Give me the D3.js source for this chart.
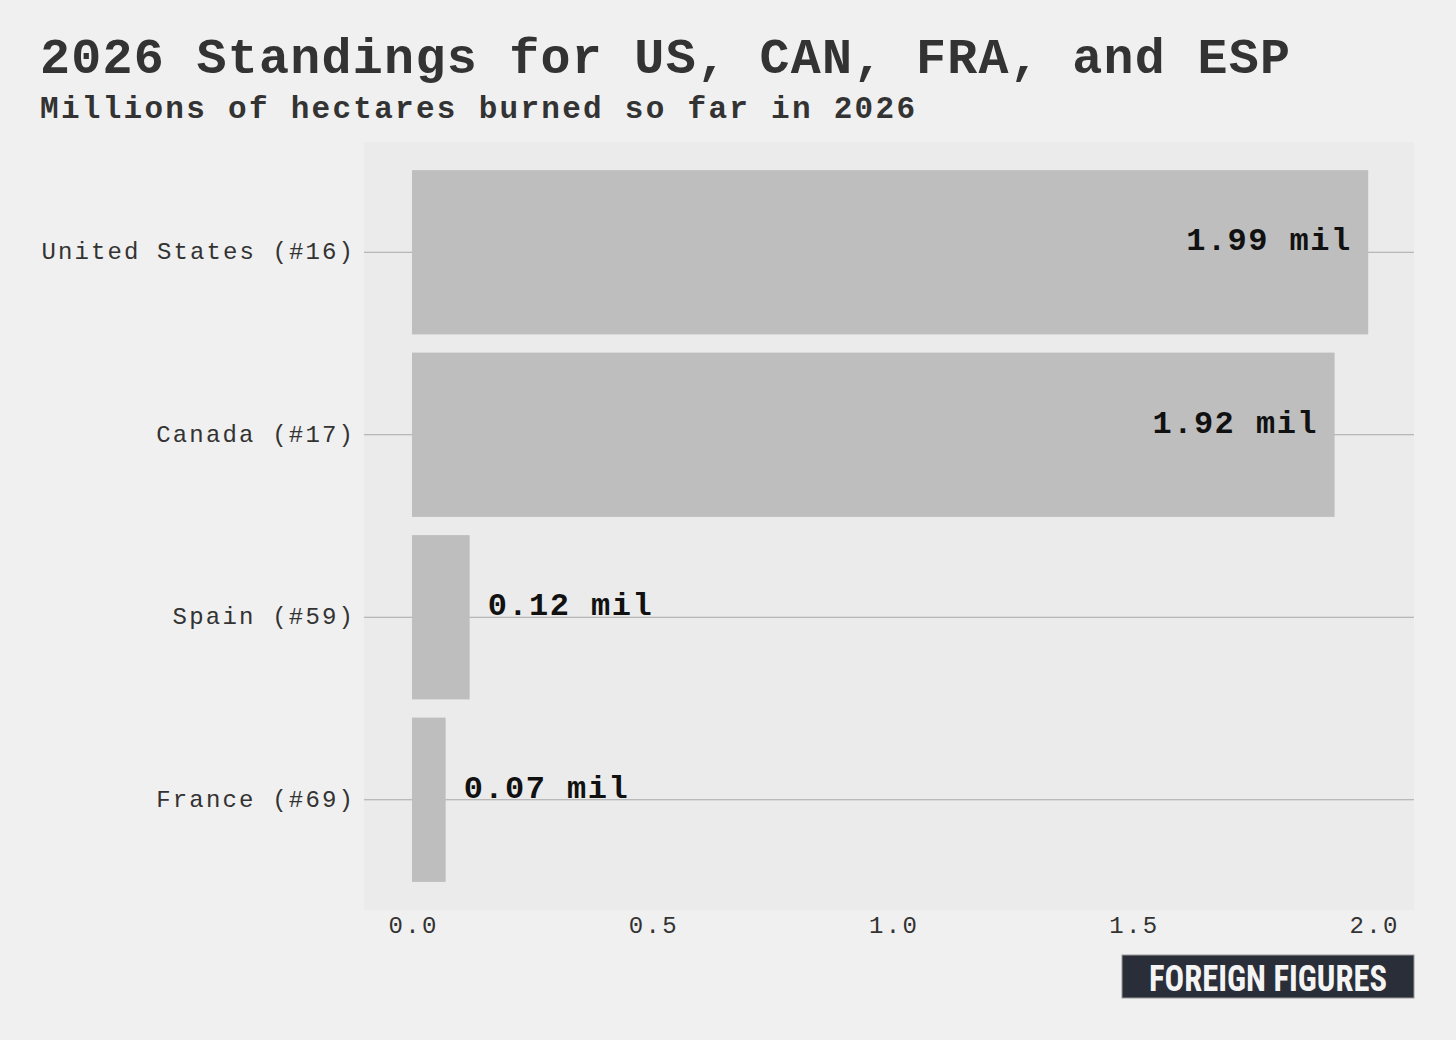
<!DOCTYPE html>
<html><head><meta charset="utf-8">
<script src="https://cdn.jsdelivr.net/npm/d3@7"></script>
<style>body{margin:0;background:#f0f0f0}svg{display:block}</style>
</head><body><svg></svg>
<script>
const countries = ["United States (#16)", "Canada (#17)", "Spain (#59)", "France (#69)"];
const burned = [1.99, 1.92, 0.12, 0.07];
const ticks = [0, 0.5, 1.0, 1.5, 2.0];

const width = 1456, height = 1040;
const svg = d3.select("svg").attr("width", width).attr("height", height);
const font = "'Liberation Mono', 'DejaVu Sans Mono', monospace";

svg.append("rect").attr("width", width).attr("height", height).attr("fill", "#f0f0f0");

svg.append("text").attr("x", 40).attr("y", 73).text("2026 Standings for US, CAN, FRA, and ESP")
  .attr("font-family", font).attr("font-weight", "bold").attr("font-size", 50).attr("fill", "#333")
  .attr("textLength", 1250).attr("lengthAdjust", "spacing");
svg.append("text").attr("x", 40).attr("y", 118).text("Millions of hectares burned so far in 2026")
  .attr("font-family", font).attr("font-weight", "bold").attr("font-size", 31).attr("fill", "#333")
  .attr("textLength", 875).attr("lengthAdjust", "spacing");

// plot panel
svg.append("rect").attr("x", 364).attr("y", 142).attr("width", 1050).attr("height", 768).attr("fill", "#ebebeb");

const x = d3.scaleLinear().domain([0, 2]).range([412, 1373]);
const y = d3.scaleBand().domain(countries).range([161, 891]).paddingInner(0.1).paddingOuter(0.05);

// gridlines at band centres
svg.append("g").selectAll("line").data(countries).join("line")
  .attr("x1", 364).attr("x2", 1414)
  .attr("y1", d => y(d) + y.bandwidth() / 2).attr("y2", d => y(d) + y.bandwidth() / 2)
  .attr("stroke", "#a8a8a8").attr("stroke-width", 1);

svg.append("g").selectAll("rect").data(burned).join("rect")
  .attr("x", x(0)).attr("y", (d, i) => y(countries[i]))
  .attr("width", d => x(d) - x(0)).attr("height", y.bandwidth())
  .attr("fill", "#bebebe");

// value labels
svg.append("g").selectAll("text").data(burned).join("text")
  .attr("x", d => d > 1 ? x(d) - 18 : x(d) + 18)
  .attr("y", (d, i) => y(countries[i]) + y.bandwidth() / 2 - 2)
  .attr("text-anchor", d => d > 1 ? "end" : "start")
  .attr("font-family", font).attr("font-weight", "bold").attr("font-size", 32).attr("fill", "#111")
  .attr("textLength", 164).attr("lengthAdjust", "spacing")
  .text(d => d.toFixed(2) + " mil");

// y labels
svg.append("g").selectAll("text").data(countries).join("text")
  .attr("x", 353).attr("y", d => y(d) + y.bandwidth() / 2 + 7)
  .attr("text-anchor", "end").attr("font-family", font).attr("font-size", 24).attr("fill", "#333")
  .attr("textLength", d => d.length * 16.4).attr("lengthAdjust", "spacing")
  .text(d => d);

// x axis
const xAxis = svg.append("g").attr("transform", "translate(0,910)")
  .call(d3.axisBottom(x).tickValues(ticks).tickFormat(d3.format(".1f")).tickSize(0).tickPadding(6));
xAxis.select(".domain").remove();
xAxis.selectAll("text").attr("font-family", font).attr("font-size", 24).attr("fill", "#333")
  .attr("textLength", 48).attr("lengthAdjust", "spacing");

// logo
const logo = svg.append("g");
logo.append("rect").attr("x", 1122).attr("y", 955).attr("width", 292).attr("height", 43).attr("fill", "#2a2e38").attr("stroke", "#999");
logo.append("text").attr("x", 1268).attr("y", 991).attr("text-anchor", "middle")
  .attr("font-family", "'Roboto Condensed', 'Liberation Sans Narrow', 'DejaVu Sans Condensed', sans-serif")
  .attr("font-weight", "bold").attr("font-size", 36).attr("fill", "#f4f4f4")
  .attr("textLength", 238).attr("lengthAdjust", "spacingAndGlyphs")
  .text("FOREIGN FIGURES");
</script></body></html>
